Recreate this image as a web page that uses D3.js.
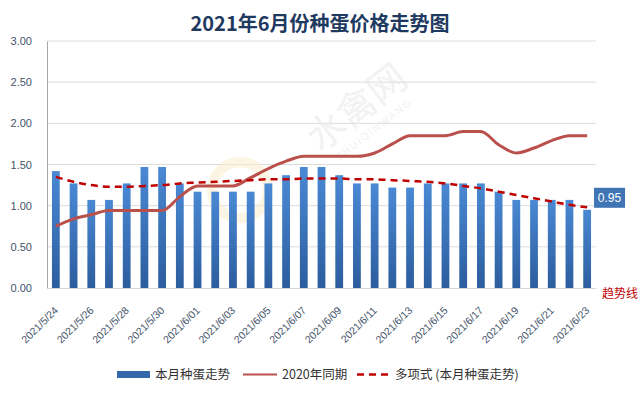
<!DOCTYPE html>
<html>
<head>
<meta charset="utf-8">
<script src="https://cdn.jsdelivr.net/npm/d3@7"></script>
<style>
  html, body { margin: 0; padding: 0; background: #fff; }
  svg { display: block; font-family: "Liberation Sans", "Noto Sans CJK SC", sans-serif; }
</style>
</head>
<body>
<div class="container"></div>
<script>
const dates = [
  "2021/5/24", "2021/5/25", "2021/5/26", "2021/5/27", "2021/5/28", "2021/5/29", "2021/5/30", "2021/5/31",
  "2021/6/01", "2021/6/02", "2021/6/03", "2021/6/04", "2021/6/05", "2021/6/06", "2021/6/07", "2021/6/08",
  "2021/6/09", "2021/6/10", "2021/6/11", "2021/6/12", "2021/6/13", "2021/6/14", "2021/6/15", "2021/6/16",
  "2021/6/17", "2021/6/18", "2021/6/19", "2021/6/20", "2021/6/21", "2021/6/22", "2021/6/23"
];
const thisMonth = [
  1.42, 1.27, 1.07, 1.07, 1.27, 1.47, 1.47, 1.27,
  1.17, 1.17, 1.17, 1.17, 1.27, 1.37, 1.47, 1.47,
  1.37, 1.27, 1.27, 1.22, 1.22, 1.27, 1.27, 1.27,
  1.27, 1.17, 1.07, 1.07, 1.07, 1.07, 0.95
];
const lastYear = [
  0.75, 0.84, 0.89, 0.94, 0.94, 0.94, 0.94, 1.11,
  1.24, 1.24, 1.24, 1.34, 1.45, 1.54, 1.60, 1.60,
  1.60, 1.60, 1.64, 1.75, 1.85, 1.85, 1.85, 1.90,
  1.90, 1.74, 1.64, 1.70, 1.79, 1.85, 1.85
];
const trend = [
  1.35, 1.29, 1.25, 1.23, 1.23, 1.24, 1.25, 1.27,
  1.28, 1.29, 1.30, 1.31, 1.32, 1.32, 1.33, 1.33,
  1.33, 1.32, 1.32, 1.31, 1.30, 1.29, 1.27, 1.24,
  1.21, 1.17, 1.13, 1.09, 1.05, 1.01, 0.98
];
const yTicks = [0, 0.5, 1, 1.5, 2, 2.5, 3];
const seriesNames = ["本月种蛋走势", "2020年同期", "多项式 (本月种蛋走势)"];

const width = 643, height = 395;
const margin = { left: 47, right: 596, top: 41, bottom: 288 };

const svg = d3.select(".container").append("svg")
  .attr("width", width).attr("height", height);

const defs = svg.append("defs");
const grad = defs.append("linearGradient")
  .attr("id", "barGrad").attr("x1", 0).attr("y1", 0).attr("x2", 0).attr("y2", 1);
grad.append("stop").attr("offset", "0%").attr("stop-color", "#4a89d4");
grad.append("stop").attr("offset", "100%").attr("stop-color", "#2c5d9e");

// title
svg.append("text")
  .attr("x", 320).attr("y", 31)
  .attr("text-anchor", "middle")
  .attr("font-family", "'Noto Sans CJK SC', sans-serif")
  .attr("font-weight", "bold")
  .attr("font-size", 20)
  .attr("fill", "#1f3a60")
  .text("2021年6月份种蛋价格走势图");

const x = d3.scaleBand()
  .domain(dates)
  .range([margin.left, margin.right])
  .paddingInner(0.56)
  .paddingOuter(0.28);
const y = d3.scaleLinear()
  .domain([0, 3])
  .range([margin.bottom, margin.top]);

// gridlines
svg.append("g")
  .selectAll("line")
  .data(yTicks.slice(1))
  .enter().append("line")
  .attr("x1", margin.left).attr("x2", margin.right)
  .attr("y1", d => y(d)).attr("y2", d => y(d))
  .attr("stroke", "#dcdcdc").attr("stroke-width", 1);

// watermark
const wm = svg.append("g").attr("transform", "translate(365,118) rotate(-38)").attr("opacity", 0.5);
wm.append("text").attr("text-anchor", "middle")
  .attr("font-family", "'Noto Sans CJK SC', sans-serif")
  .attr("font-size", 38).attr("fill", "#e6e6e6").text("水禽网");
wm.append("text").attr("text-anchor", "middle").attr("y", 18)
  .attr("font-size", 10).attr("letter-spacing", 2).attr("fill", "#e6e6e6").text("SHUIQINWANG");
svg.append("circle").attr("cx", 240).attr("cy", 190).attr("r", 28)
  .attr("fill", "none").attr("stroke", "#fbeed0").attr("stroke-width", 10).attr("opacity", 0.6);

// y axis
const yAxis = d3.axisLeft(y).tickValues(yTicks).tickFormat(d3.format(".2f")).tickSize(0).tickPadding(15);
const gy = svg.append("g").attr("transform", `translate(${margin.left},0)`).call(yAxis);
gy.select(".domain").attr("stroke", "#a6a6a6");
gy.selectAll("text").attr("font-size", 11).attr("fill", "#44546a")
  .attr("font-family", "'Liberation Sans', sans-serif");

// bars
svg.append("g")
  .selectAll("rect")
  .data(thisMonth)
  .enter().append("rect")
  .attr("x", (d, i) => x(dates[i]))
  .attr("y", d => y(d))
  .attr("width", x.bandwidth())
  .attr("height", d => y(0) - y(d))
  .attr("fill", "url(#barGrad)");

// x axis
const xAxis = d3.axisBottom(x)
  .tickValues(dates.filter((d, i) => i % 2 === 0))
  .tickSize(0).tickPadding(0);
const gx = svg.append("g").attr("transform", `translate(0,${margin.bottom})`).call(xAxis);
gx.select(".domain").attr("stroke", "#d9d9d9");
gx.selectAll("text")
  .attr("font-size", 10.5).attr("fill", "#44546a")
  .attr("font-family", "'Liberation Sans', sans-serif")
  .attr("text-anchor", "end")
  .attr("dy", 0)
  .attr("transform", "translate(3,23) rotate(-45)");

const cx = i => x(dates[i]) + x.bandwidth() / 2;

// 2020 line
svg.append("path")
  .datum(lastYear)
  .attr("fill", "none")
  .attr("stroke", "#b9504c")
  .attr("stroke-width", 3)
  .attr("stroke-linejoin", "round")
  .attr("d", d3.line().x((d, i) => cx(i)).y(d => y(d)).curve(d3.curveMonotoneX));

// trend line
svg.append("path")
  .datum(trend)
  .attr("fill", "none")
  .attr("stroke", "#c00000")
  .attr("stroke-width", 2.5)
  .attr("stroke-dasharray", "7,5")
  .attr("d", d3.line().x((d, i) => cx(i)).y(d => y(d)).curve(d3.curveMonotoneX));

// last value label
const last = thisMonth.length - 1;
const lbl = svg.append("g")
  .attr("transform", `translate(${x(dates[last]) + x.bandwidth() + 3},${y(thisMonth[last]) - 22})`);
lbl.append("rect").attr("width", 31).attr("height", 20).attr("fill", "#3f74b5");
lbl.append("text").attr("x", 15.5).attr("y", 14.5).attr("text-anchor", "middle")
  .attr("font-size", 12).attr("fill", "#fff").text(d3.format(".2f")(thisMonth[last]));

// trend note
svg.append("text")
  .attr("x", 602).attr("y", 298)
  .attr("font-family", "'Noto Sans CJK SC', sans-serif")
  .attr("font-size", 12).attr("fill", "#c00000")
  .text("趋势线");

// legend
const lg = svg.append("g").attr("font-family", "'Noto Sans CJK SC', sans-serif").attr("font-size", 12.5).attr("fill", "#333");
lg.append("rect").attr("x", 117).attr("y", 371).attr("width", 33).attr("height", 7).attr("fill", "#3567ab");
lg.append("text").attr("x", 155).attr("y", 379).text(seriesNames[0]);
lg.append("line").attr("x1", 243).attr("x2", 277).attr("y1", 374.5).attr("y2", 374.5)
  .attr("stroke", "#b9504c").attr("stroke-width", 2);
lg.append("text").attr("x", 282).attr("y", 379).text(seriesNames[1]);
lg.append("line").attr("x1", 357).attr("x2", 391).attr("y1", 374.5).attr("y2", 374.5)
  .attr("stroke", "#c00000").attr("stroke-width", 2.5).attr("stroke-dasharray", "7,5");
lg.append("text").attr("x", 395).attr("y", 379).text(seriesNames[2]);
</script>
</body>
</html>
